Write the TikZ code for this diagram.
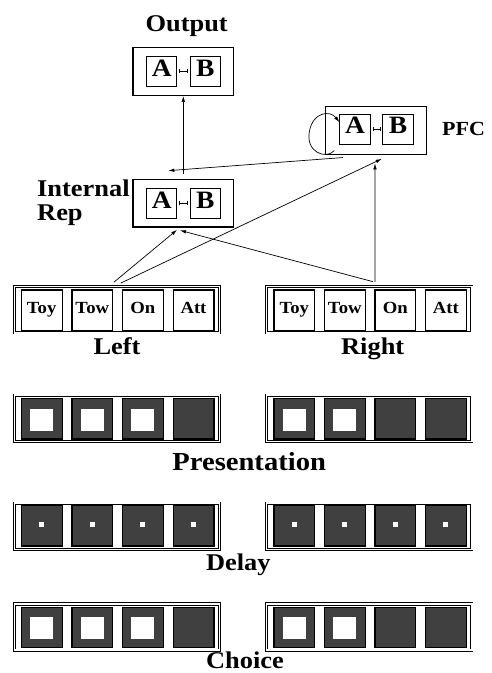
\documentclass[tikz,border=0pt]{standalone}
\usepackage{fontspec}
\setmainfont{Liberation Serif}[FakeStretch=1.1]
\usetikzlibrary{arrows.meta}
\definecolor{cellgray}{RGB}{64,64,64}
\begin{document}
\begin{tikzpicture}[x=1pt,y=-1pt,
  lbl/.style={inner sep=0pt, font=\fontsize{24}{24}\selectfont\bfseries},
  arr/.style={-{Latex[length=6pt,width=3.6pt]}, line width=0.7pt},
  frame/.style={draw, line width=1.2pt, minimum width=100.8pt, minimum height=47.5pt, inner sep=0pt},
  letter/.style={draw, line width=0.9pt, minimum width=30.3pt, minimum height=29.8pt, inner sep=0pt,
    font=\fontsize{25}{25}\selectfont\bfseries, text height=16.5pt, text depth=7pt},
  link/.style={{Bar[width=4pt,line width=0.7pt]}-{Bar[width=4pt,line width=0.7pt]}, line width=0.7pt},
  rowbox/.style={draw, double, double distance=1.6pt, line width=0.8pt,
    minimum width=205.1pt, minimum height=46.2pt, inner sep=0pt},
  wcell/.style={draw, line width=1.2pt, minimum width=40.8pt, minimum height=40.2pt, inner sep=0pt,
    font=\fontsize{17}{17}\selectfont\bfseries, text height=11.2pt, text depth=4.6pt},
  dcell/.style={draw, fill=cellgray, line width=1.2pt, minimum width=40.8pt, minimum height=40.2pt, inner sep=0pt},
  hole/.style={fill=white, minimum width=23pt, minimum height=22pt, inner sep=0pt},
  dot/.style={fill=white, minimum width=5pt, minimum height=5pt, inner sep=0pt}
]
\useasboundingbox (0,0) rectangle (491,673);

% Output unit
\node[lbl, anchor=base] (outlbl) at (186.7,31.7) {Output};
\node[frame] (out) at (183.3,71.6) {};
\node[letter] (outA) at (161.7,71.4) {A};
\node[letter] (outB) at (205.4,71.4) {B};
\draw[link] ([xshift=2pt]outA.east) -- ([xshift=-2pt]outB.west);

% Internal representation
\node[lbl, anchor=base west] (irlbl1) at (37,196.5) {Internal};
\node[lbl, anchor=base west] (irlbl2) at (37,220) {Rep};
\node[frame] (ir) at (183.3,203.3) {};
\node[letter] (irA) at (161.7,203.3) {A};
\node[letter] (irB) at (205.3,203.3) {B};
\draw[link] ([xshift=2pt]irA.east) -- ([xshift=-2pt]irB.west);

% Prefrontal cortex
\node[frame] (pfc) at (376.2,130.5) {};
\node[letter] (pfcA) at (355,129.2) {A};
\node[letter] (pfcB) at (398,129.2) {B};
\draw[link] ([xshift=2pt]pfcA.east) -- ([xshift=-2pt]pfcB.west);
\node[lbl, anchor=base west, font=\fontsize{20}{20}\selectfont\bfseries] (pfclbl) at (442,135) {PFC};
\draw[arr] ([xshift=-5pt,yshift=-6pt]pfcA.south west)
  .. controls (326,160) and (305,152) .. (309.5,131)
  .. controls (313,112) and (330,110) .. ([yshift=7pt]pfcA.west);

% Input rows
\node[rowbox] (left) at (116.85,309.65) {};
\node[rowbox] (right) at (369.15,309.65) {};
\foreach \t [count=\i] in {Toy,Tow,On,Att} {
  \node[wcell] (l\i) at ({41.7+50.6*(\i-1)},310) {\t};
  \node[wcell] (r\i) at ({294.3+50.5*(\i-1)},310) {\t};
}
\node[lbl, anchor=base] (leftlbl) at (117,354.5) {Left};
\node[lbl, anchor=base] (rightlbl) at (372.7,354) {Right};

% Connections
\draw[arr] ([yshift=5pt]ir.north) -- (out.south);
\draw[arr] ([xshift=17.6pt,yshift=-2.7pt]pfc.south west) -- ([xshift=-15pt,yshift=8.3pt]ir.north);
\draw[arr] ([xshift=-2.9pt,yshift=4pt]left.north) -- ([xshift=-6.3pt,yshift=-2.2pt]ir.south);
\draw[arr] ([xshift=3.8pt,yshift=3pt]left.north) -- ([xshift=5.5pt,yshift=-4pt]pfc.south);
\draw[arr] ([xshift=5.8pt,yshift=4pt]right.north) -- ([xshift=-1.2pt,yshift=-8.5pt]pfc.south);
\draw[arr] ([xshift=3.8pt,yshift=4.5pt]right.north) -- ([xshift=-3.3pt,yshift=-2.7pt]ir.south);

% Presentation
\node[rowbox] (pl) at (116.85,418.3) {};
\node[rowbox] (pr) at (369.15,418.3) {};
\foreach \i in {1,...,4} {
  \node[dcell] (pl\i) at ({41.7+50.6*(\i-1)},418.8) {};
  \node[dcell] (pr\i) at ({294.3+50.5*(\i-1)},418.8) {};
}
\foreach \i in {1,2,3} \node[hole] (plh\i) at ([yshift=-0.8pt]pl\i.center) {};
\foreach \i in {1,2} \node[hole] (prh\i) at ([yshift=-0.8pt]pr\i.center) {};
\node[lbl, anchor=base, font=\fontsize{26}{26}\selectfont\bfseries] (preslbl) at (249.2,470.7) {Presentation};

% Delay
\node[rowbox] (dl) at (116.85,526.35) {};
\node[rowbox] (dr) at (369.15,526.35) {};
\foreach \i in {1,...,4} {
  \node[dcell] (dl\i) at ({41.7+50.6*(\i-1)},525.8) {};
  \node[dcell] (dr\i) at ({294.3+50.5*(\i-1)},525.8) {};
  \node[dot] (dld\i) at ([yshift=1pt]dl\i.center) {};
  \node[dot] (drd\i) at ([yshift=1pt]dr\i.center) {};
}
\node[lbl, anchor=base] (delaylbl) at (238.3,570) {Delay};

% Choice
\node[rowbox] (cl) at (116.85,627) {};
\node[rowbox] (cr) at (369.15,627) {};
\foreach \i in {1,...,4} {
  \node[dcell] (cl\i) at ({41.7+50.6*(\i-1)},627.2) {};
  \node[dcell] (cr\i) at ({294.3+50.5*(\i-1)},627.2) {};
}
\foreach \i in {1,2,3} \node[hole] (clh\i) at ([yshift=-0.8pt]cl\i.center) {};
\foreach \i in {1,2} \node[hole] (crh\i) at ([yshift=-0.8pt]cr\i.center) {};
\node[lbl, anchor=base] (choicelbl) at (245,668.5) {Choice};
\end{tikzpicture}
\end{document}
